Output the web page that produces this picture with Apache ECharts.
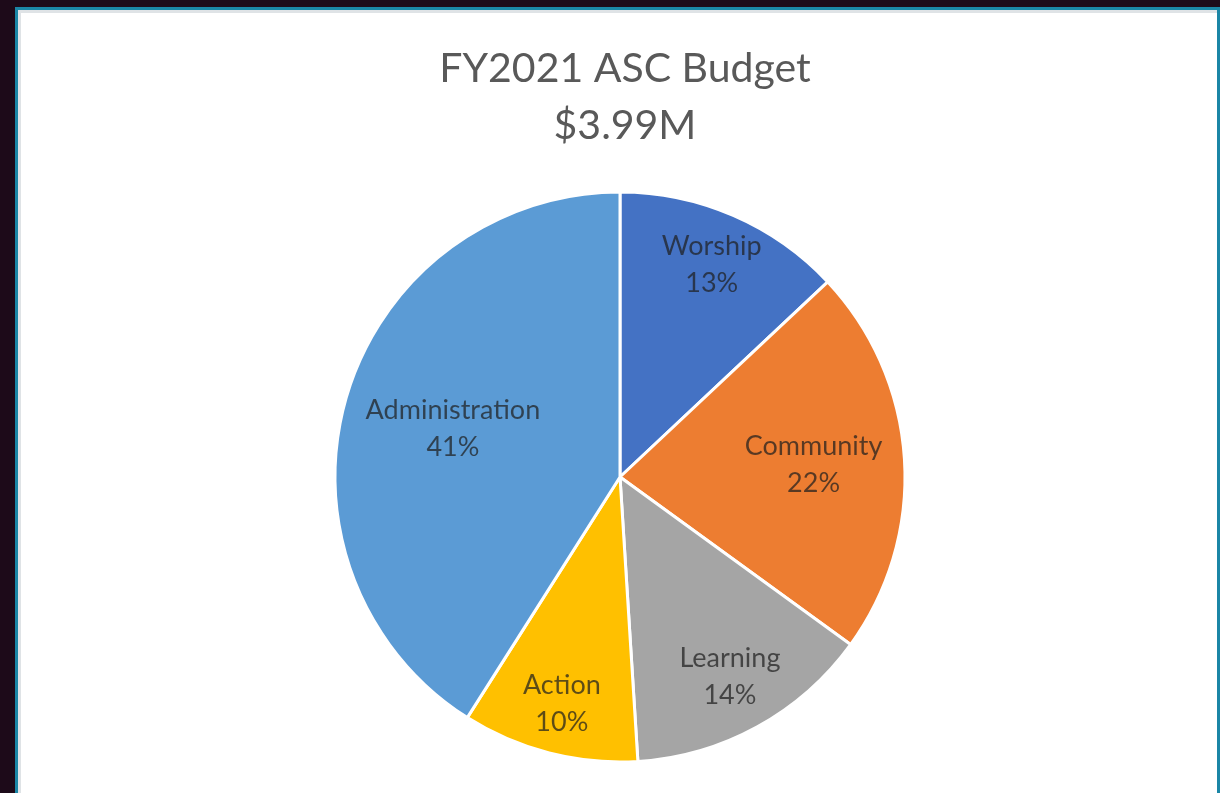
<!DOCTYPE html>
<html>
<head>
<meta charset="utf-8">
<script src="https://cdn.jsdelivr.net/npm/echarts@6/dist/echarts.min.js"></script>
<style>
  html, body { margin: 0; padding: 0; width: 1220px; height: 793px; overflow: hidden; background: #1d0a19; }
  #frame { position: absolute; left: 15px; top: 7px; width: 1205px; height: 800px; background: #ffffff;
           border-left: 3px solid #1b86a6; border-top: 3px solid #1b86a6; border-right: 3px solid #1b86a6; box-sizing: border-box;
           box-shadow: inset 3px 3px 0 #dfe3e6; }
  #chart { position: absolute; left: 0; top: 0; width: 1220px; height: 793px; }
</style>
</head>
<body>
<div id="frame"></div>
<div id="chart"></div>
<script>
const titleLines = ['FY2021 ASC Budget', '$3.99M'];
const categories = ['Worship', 'Community', 'Learning', 'Action', 'Administration'];
const shares = [13, 22, 14, 10, 41];
const colors = ['#4472C4', '#ED7D31', '#A5A5A5', '#FFC000', '#5B9BD5'];
// how far out (fraction of radius) each label sits, like Excel's best-fit placement
const labelRadiusFrac = [0.80, 0.67, 0.79, 0.81, 0.60];

const R = 285;
const total = shares.reduce((a, b) => a + b, 0);
let acc = 0;
const data = categories.map((name, i) => {
  const mid = (acc + shares[i] / 2) / total * 2 * Math.PI;
  acc += shares[i];
  const shift = (labelRadiusFrac[i] - 0.5) * R;
  return {
    name: name,
    value: shares[i],
    itemStyle: { color: colors[i] },
    label: { offset: [shift * Math.sin(mid), -shift * Math.cos(mid)] }
  };
});

const chart = echarts.init(document.getElementById('chart'), null, { renderer: 'canvas' });
chart.setOption({
  backgroundColor: 'transparent',
  animation: false,
  title: {
    text: titleLines.join('\n'),
    left: 620,
    textAlign: 'center',
    top: 35,
    textStyle: { fontFamily: 'Lato', fontSize: 41, fontWeight: 'normal', color: '#595959', lineHeight: 57 }
  },
  series: [{
    type: 'pie',
    center: [620, 477],
    radius: [0, R],
    startAngle: 90,
    clockwise: true,
    data: data,
    itemStyle: { borderColor: '#ffffff', borderWidth: 3 },
    label: {
      show: true,
      position: 'inside',
      formatter: '{b}\n{c}%',
      fontFamily: 'Lato',
      fontSize: 27,
      lineHeight: 37,
      color: 'rgba(30,30,30,0.72)'
    },
    labelLine: { show: false },
    emphasis: { disabled: true }
  }]
});
</script>
</body>
</html>
